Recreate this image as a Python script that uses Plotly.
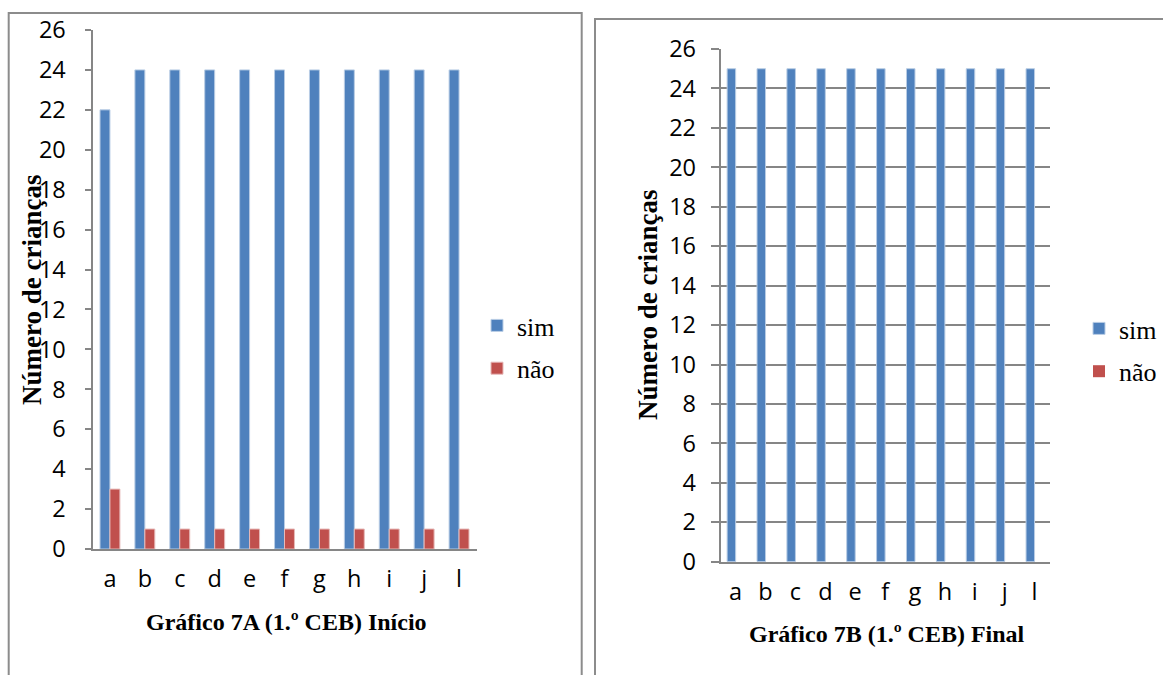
import plotly.graph_objects as go

# Categories and counts for the two charts
categorias = ["a", "b", "c", "d", "e", "f", "g", "h", "i", "j", "l"]
sim_inicio = [22, 24, 24, 24, 24, 24, 24, 24, 24, 24, 24]
nao_inicio = [3, 1, 1, 1, 1, 1, 1, 1, 1, 1, 1]
sim_final = [25, 25, 25, 25, 25, 25, 25, 25, 25, 25, 25]
nao_final = [0, 0, 0, 0, 0, 0, 0, 0, 0, 0, 0]
y_ticks = list(range(0, 27, 2))

W, H = 1163, 675
AZUL = "#4F81BD"
VERMELHO = "#C0504D"
CINZA = "#868686"
TICK_FONT = dict(family="Open Sans", size=23.5, color="#000000")
SERIF = "Liberation Serif"


def px_x(v):
    return v / W


def px_y(v):
    return 1 - v / H


fig = go.Figure()

# Left chart (start)
fig.add_trace(go.Bar(x=categorias, y=sim_inicio, name="sim", xaxis="x", yaxis="y",
                     marker=dict(color=AZUL, line=dict(color="#B9CDE5", width=1)),
                     legend="legend", legendgroup="s1"))
fig.add_trace(go.Bar(x=categorias, y=nao_inicio, name="não", xaxis="x", yaxis="y",
                     marker=dict(color=VERMELHO, line=dict(color="#E6B9B8", width=1)),
                     legend="legend", legendgroup="n1"))

# Right chart (end)
fig.add_trace(go.Bar(x=categorias, y=sim_final, name="sim", xaxis="x2", yaxis="y2",
                     marker=dict(color=AZUL, line=dict(color="#B9CDE5", width=1)),
                     legend="legend2", legendgroup="s2"))
fig.add_trace(go.Bar(x=categorias, y=nao_final, name="não", xaxis="x2", yaxis="y2",
                     marker=dict(color=VERMELHO, line=dict(color="#E6B9B8", width=0)),
                     legend="legend2", legendgroup="n2"))

legend_common = dict(
    font=dict(family=SERIF, size=26, color="#000000"),
    bgcolor="rgba(0,0,0,0)",
    xanchor="left", yanchor="middle",
    tracegroupgap=6,
    itemwidth=30,
)

fig.update_layout(
    width=W, height=H,
    margin=dict(l=0, r=0, t=0, b=0, autoexpand=False),
    paper_bgcolor="white", plot_bgcolor="white",
    barmode="group", bargap=0.43, bargroupgap=0,
    xaxis=dict(domain=[px_x(92.5), px_x(476.5)], anchor="y", automargin=False,
               showline=True, linecolor=CINZA, linewidth=2,
               ticks="", tickfont=TICK_FONT, ticklabelstandoff=8,
               showgrid=False, fixedrange=True),
    yaxis=dict(domain=[px_y(549), px_y(30)], anchor="x", range=[0, 26], automargin=False,
               tickvals=y_ticks, showline=True, linecolor=CINZA, linewidth=2,
               ticks="outside", ticklen=6, tickcolor=CINZA, tickwidth=2,
               tickfont=TICK_FONT, ticklabelstandoff=14,
               showgrid=False, zeroline=False),
    xaxis2=dict(domain=[px_x(720.7), px_x(1049.5)], anchor="y2", automargin=False,
                showline=True, linecolor=CINZA, linewidth=2,
                ticks="", tickfont=TICK_FONT, ticklabelstandoff=8,
                showgrid=False),
    yaxis2=dict(domain=[px_y(561.7), px_y(49)], anchor="x2", range=[0, 26], automargin=False,
                tickvals=y_ticks, showline=True, linecolor=CINZA, linewidth=2,
                ticks="outside", ticklen=8, tickcolor=CINZA, tickwidth=2,
                tickfont=TICK_FONT, ticklabelstandoff=10,
                showgrid=True, gridcolor=CINZA, gridwidth=2, zeroline=False),
    legend=dict(x=px_x(477), y=px_y(347), **legend_common),
    legend2=dict(x=px_x(1079), y=px_y(350), **legend_common),
    showlegend=True,
)

# Axis titles
titulos = [
    ("<b>Gráfico 7A (1.º CEB) Início</b>", 286, 622, 0, 24),
    ("<b>Gráfico 7B (1.º CEB) Final</b>", 887, 634, 0, 24),
    ("<b>Número de crianças</b>", 32, 290, -90, 27),
    ("<b>Número de crianças</b>", 648, 305, -90, 27),
]
for texto, cx, cy, ang, tam in titulos:
    fig.add_annotation(text=texto, xref="paper", yref="paper",
                       x=px_x(cx), y=px_y(cy), xanchor="center", yanchor="middle",
                       showarrow=False, textangle=ang,
                       font=dict(family=SERIF, size=tam, color="#000000"))

# Panel frames
fig.add_shape(type="rect", xref="paper", yref="paper",
              x0=px_x(8.7), x1=px_x(581.7), y0=-0.2, y1=px_y(13),
              line=dict(color="#8C8C8C", width=2), layer="below")
fig.add_shape(type="rect", xref="paper", yref="paper",
              x0=px_x(595), x1=1.2, y0=-0.2, y1=px_y(19),
              line=dict(color="#8C8C8C", width=2), layer="below")

fig.write_html("out.html")
